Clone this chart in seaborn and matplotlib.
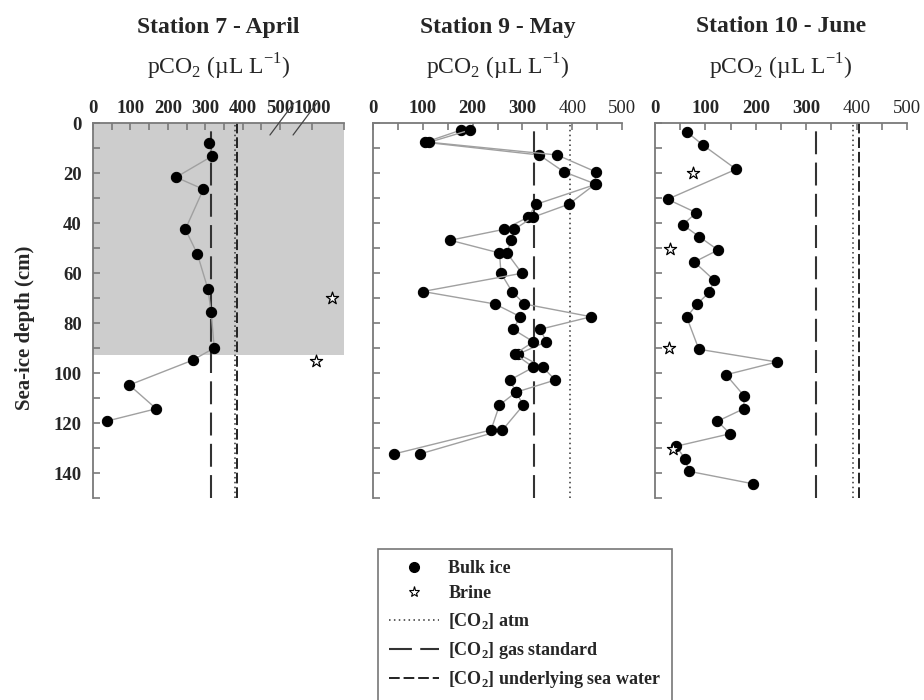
import numpy as np
import pandas as pd
import matplotlib
matplotlib.use("Agg")
import matplotlib.pyplot as plt
from matplotlib.lines import Line2D
import seaborn as sns

# ---- data -------------------------------------------------------------
stations = ["Station 7 - April", "Station 9 - May", "Station 10 - June"]

st7_depth = [8.1, 13.2, 21.7, 26.5, 42.5, 52.4, 66.3, 75.6, 90.0, 94.9, 104.8, 114.3, 119.2]
st7_pco2 = [311, 319, 222, 295, 247, 279, 307, 316, 324, 266, 97, 169, 38]
st7_brine_depth = [70.1, 95.1]
st7_brine_pco2 = [1307, 1058]

st9_depth = [2.8, 7.7, 12.8, 19.5, 24.5, 32.5, 37.7, 42.5, 46.9, 52.0, 60.1, 67.4,
             72.4, 77.5, 82.5, 87.5, 92.4, 97.7, 102.8, 107.7, 112.8, 122.8, 132.4]
st9_core_a = [177, 105, 334, 383, 448, 328, 311, 264, 155, 254, 257, 279,
              304, 438, 336, 348, 292, 341, 366, 287, 302, 260, 94]
st9_core_b = [195, 113, 370, 447, 446, 393, 321, 284, 277, 269, 299, 100,
              245, 296, 281, 322, 285, 322, 275, 287, 254, 237, 42]

st10_depth = [3.7, 8.8, 18.5, 30.5, 35.9, 40.7, 45.5, 50.8, 55.6, 62.8, 67.7, 72.5,
              77.7, 90.5, 95.6, 100.7, 109.2, 114.3, 119.3, 124.3, 129.3, 134.4, 139.3, 144.3]
st10_pco2 = [64, 95, 161, 25, 82, 55, 88, 125, 78, 117, 108, 83,
             63, 87, 242, 141, 177, 176, 124, 149, 42, 60, 67, 194]
st10_brine_depth = [20.1, 50.4, 90.1, 130.5]
st10_brine_pco2 = [76, 30, 28, 35]

co2_atm = [380, 396, 392]
co2_gas_standard = [315, 323, 320]
co2_sea_water = [386, None, 404]

ice_bottom_st7 = 92.8  # shaded ice section at station 7

# ---- style ------------------------------------------------------------
sns.set_style("white")
plt.rcParams["font.family"] = ["Liberation Serif", "DejaVu Serif"]
plt.rcParams["mathtext.fontset"] = "custom"
plt.rcParams["mathtext.rm"] = "Liberation Serif"
plt.rcParams["mathtext.bf"] = "Liberation Serif:bold"

SPINE = "#7a7a7a"
LINE = "#a0a0a0"
TICKFS = 13.5

fig = plt.figure(figsize=(9.24, 7.0), dpi=100)
W, H = 924, 700
top_px, bot_px = 123, 498
panels_px = [(93, 344), (373, 622), (655, 907)]
axes = []
for (l, r) in panels_px:
    ax = fig.add_axes([l / W, 1 - bot_px / H, (r - l) / W, (bot_px - top_px) / H])
    axes.append(ax)

# broken x scale for station 7: 0-500 linear, 500-1500 compressed
K = 0.171
def fwd(v):
    v = np.asarray(v, dtype=float)
    return np.where(v <= 500, v, 500 + (v - 500) * K)
def inv(d):
    d = np.asarray(d, dtype=float)
    return np.where(d <= 500, d, 500 + (d - 500) / K)

mk = dict(marker="o", markersize=7.4, markerfacecolor="black",
          markeredgecolor="black", color=LINE, linewidth=1.0)
star_kw = dict(marker="*", s=85, facecolor="white", edgecolor="black", linewidth=0.9, zorder=5)

def profile(ax, x, y):
    df = pd.DataFrame({"pco2": x, "depth": y})
    sns.lineplot(data=df, x="pco2", y="depth", sort=False, estimator=None, ax=ax, **mk)

# Station 7
ax = axes[0]
ax.set_xscale("function", functions=(fwd, inv))
ax.axhspan(0, ice_bottom_st7, color="#cdcdcd", zorder=0, lw=0)
profile(ax, st7_pco2, st7_depth)
sns.scatterplot(x=st7_brine_pco2, y=st7_brine_depth, ax=ax, **star_kw)

# Station 9 (two cores)
ax = axes[1]
profile(ax, st9_core_a, st9_depth)
profile(ax, st9_core_b, st9_depth)

# Station 10
ax = axes[2]
profile(ax, st10_pco2, st10_depth)
sns.scatterplot(x=st10_brine_pco2, y=st10_brine_depth, ax=ax, **star_kw)

atm_style = dict(color="#333333", lw=1.1, linestyle=(0, (1, 2.2)))
gas_style = dict(color="#333333", lw=1.5, linestyle=(0, (11, 4)))
sea_style = dict(color="#222222", lw=1.4, linestyle=(0, (5.5, 2)))

for i, ax in enumerate(axes):
    ax.axvline(co2_atm[i], zorder=1, **atm_style)
    ax.axvline(co2_gas_standard[i], zorder=1, **gas_style)
    if co2_sea_water[i] is not None:
        ax.axvline(co2_sea_water[i], zorder=1, **sea_style)

    ax.set_ylim(150, 0)
    ax.set_xlabel("")
    ax.set_ylabel("")
    ax.xaxis.tick_top()
    for s in ["right", "bottom"]:
        ax.spines[s].set_visible(False)
    for s in ["left", "top"]:
        ax.spines[s].set_color(SPINE)
        ax.spines[s].set_linewidth(1.3)
    ax.set_yticks(np.arange(0, 141, 20))
    ax.set_yticks(np.arange(10, 151, 20), minor=True)
    ax.tick_params(axis="both", which="both", direction="in", color=SPINE,
                   width=1.2, length=5, top=True, bottom=False, left=True, right=False)
    ax.tick_params(axis="x", which="both", labelsize=TICKFS, pad=4)
    ax.tick_params(axis="y", which="both", labelsize=TICKFS, pad=8)
    for lab in ax.get_xticklabels() + ax.get_yticklabels():
        lab.set_fontweight("bold")
    if i > 0:
        ax.set_xlim(0, 500)
        ax.set_xticks(np.arange(0, 501, 100))
        ax.set_xticks(np.arange(50, 451, 100), minor=True)
        ax.set_yticklabels([])
    ax.patch.set_alpha(0)

ax = axes[0]
ax.set_xlim(0, 1500)
ax.set_xticks([0, 100, 200, 300, 400, 500, 1000])
ax.set_xticklabels(["0", "100", "200", "300", "400", "500", "1000"])
ax.set_xticks([50, 150, 250, 350, 450, 1500], minor=True)
for lab in ax.get_xticklabels() + ax.get_yticklabels():
    lab.set_fontweight("bold")

# axis break marks on the top axis of station 7
for x0 in (0.705, 0.797):
    ax.plot([x0, x0 + 0.095], [0.968, 1.053], transform=ax.transAxes,
            color="#444444", lw=0.9, clip_on=False, zorder=6)

# titles and axis labels
for (l, r), name in zip(panels_px, stations):
    xc = (l + r) / 2 / W
    fig.text(xc, 1 - 27 / H, name, ha="center", va="center",
             fontsize=17, fontweight="bold")
    fig.text(xc, 1 - 67 / H, r"pCO$_\mathregular{2}$ (µL L$^\mathregular{-1}$)",
             ha="center", va="center", fontsize=17)

fig.text(25 / W, 1 - 328 / H, "Sea-ice depth (cm)", rotation=90, ha="center",
         va="center", fontsize=15, fontweight="bold")

# legend
handles = [
    Line2D([], [], ls="none", marker="o", color="black", markersize=7),
    Line2D([], [], ls="none", marker="*", markerfacecolor="white",
           markeredgecolor="black", markersize=8, markeredgewidth=0.8),
    Line2D([], [], **atm_style),
    Line2D([], [], **gas_style),
    Line2D([], [], **sea_style),
]
labels = ["Bulk ice", "Brine", r"[CO$_\mathregular{2}$] atm",
          r"[CO$_\mathregular{2}$] gas standard",
          r"[CO$_\mathregular{2}$] underlying sea water"]
leg = fig.legend(handles, labels, loc="upper left",
                 bbox_to_anchor=(378 / W, 1 - 549 / H),
                 prop={"family": "Liberation Serif", "weight": "bold", "size": 13},
                 frameon=True, fancybox=False, handlelength=2.8, handletextpad=0.5,
                 labelspacing=0.48, borderpad=0.6, borderaxespad=0)
leg.get_frame().set_edgecolor("#555555")
leg.get_frame().set_linewidth(1.2)

fig.savefig("out.png", dpi=100)
